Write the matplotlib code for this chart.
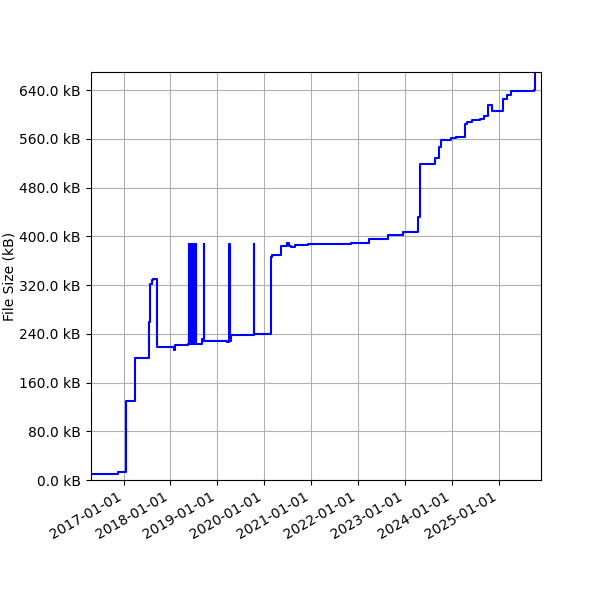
import matplotlib
matplotlib.use("Agg")
import matplotlib.pyplot as plt
import matplotlib.dates as mdates
import matplotlib.ticker as mticker
import pandas as pd

dates = [
    "2016-04-27", "2016-11-20", "2017-01-20", "2017-04-02", "2017-07-18",
    "2017-07-23", "2017-08-08", "2017-08-20", "2017-09-16", "2018-01-27",
    "2018-02-09", "2018-05-20",
    "2018-05-22", "2018-05-24", "2018-05-27", "2018-05-29", "2018-06-01",
    "2018-06-03", "2018-06-06", "2018-06-08", "2018-06-11", "2018-06-13",
    "2018-06-16", "2018-06-18", "2018-06-21", "2018-06-23", "2018-06-26",
    "2018-06-28", "2018-07-01", "2018-07-03", "2018-07-06", "2018-07-08",
    "2018-07-11", "2018-07-13", "2018-07-16", "2018-07-19",
    "2018-09-05", "2018-09-17", "2018-09-19", "2019-03-20", "2019-04-06",
    "2019-04-08", "2019-04-20", "2019-10-12", "2019-10-14",
    "2020-02-20", "2020-03-05", "2020-05-08", "2020-06-28", "2020-07-12",
    "2020-07-31", "2020-08-25", "2020-12-10", "2021-03-20", "2021-05-10",
    "2021-11-05", "2022-04-01", "2022-08-22", "2022-12-15", "2023-04-16",
    "2023-05-03", "2023-08-22", "2023-09-24", "2023-10-08", "2023-12-25",
    "2024-02-06", "2024-04-12", "2024-04-26", "2024-06-09", "2024-08-07",
    "2024-09-12", "2024-10-12", "2024-11-13", "2025-02-06", "2025-03-10",
    "2025-04-04", "2025-10-03", "2025-10-12",
]
sizes_kb = [
    10, 13, 130, 200, 260,
    322, 328, 330, 218, 213,
    221, 223,
    388, 223, 388, 223, 388,
    223, 388, 223, 388, 223,
    388, 223, 388, 223, 388,
    223, 388, 223, 388, 223,
    388, 223, 388, 224,
    231, 388, 228, 226, 388,
    228, 238.5, 388, 240,
    366, 369, 384, 388.5, 384,
    383, 385.5, 388, 387, 387.5,
    390, 395, 402.6, 408, 432,
    519, 529, 547, 558, 561,
    563, 585, 588, 591, 593.5,
    597, 615, 605.5, 625, 633,
    639, 641, 670,
]

x = pd.to_datetime(dates)

fig = plt.figure(figsize=(6, 6), dpi=100)
ax = fig.add_axes([0.1512, 0.2, 0.75, 0.68])
ax.plot(x, sizes_kb, drawstyle="steps-post", color="blue", linewidth=1.5)

ax.set_ylim(0, max(sizes_kb))
ax.set_xlim(pd.Timestamp("2016-04-20"), pd.Timestamp("2025-11-25"))
ax.yaxis.set_major_locator(mticker.MultipleLocator(80))
ax.yaxis.set_major_formatter(mticker.FuncFormatter(lambda v, p: f"{v:.1f} kB"))
ax.xaxis.set_major_locator(mdates.YearLocator())
ax.xaxis.set_major_formatter(mdates.DateFormatter("%Y-%m-%d"))
for lbl in ax.get_xticklabels():
    lbl.set_rotation(30)
    lbl.set_ha("right")
ax.set_ylabel("File Size (kB)", labelpad=2)
ax.grid(True)

fig.savefig("out.png", dpi=100)
